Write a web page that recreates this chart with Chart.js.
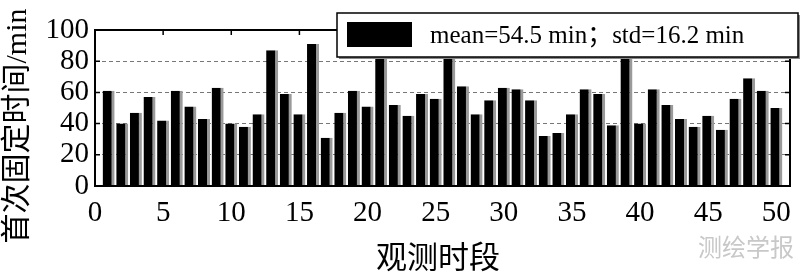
<!DOCTYPE html>
<html>
<head>
<meta charset="utf-8">
<script src="https://cdn.jsdelivr.net/npm/chart.js@4"></script>
<style>
    html, body { margin: 0; padding: 0; background: #fff; }
    #wrap { width: 800px; height: 272px; position: relative; }
</style>
</head>
<body>
<div id="wrap"><canvas id="fixChart"></canvas></div>
<script>
// observation periods and first fixation time (min)
const periods = [1, 2, 3, 4, 5, 6, 7, 8, 9, 10,
    11, 12, 13, 14, 15, 16, 17, 18, 19, 20,
    21, 22, 23, 24, 25, 26, 27, 28, 29, 30,
    31, 32, 33, 34, 35, 36, 37, 38, 39, 40,
    41, 42, 43, 44, 45, 46, 47, 48, 49, 50];
const fixTimes = [61, 40, 47, 57, 42, 61, 51, 43, 63, 40,
    38, 46, 87, 59, 46, 91, 31, 47, 61, 51,
    95, 52, 45, 59, 56, 93, 64, 46, 55, 63,
    62, 55, 32, 34, 46, 62, 59, 39, 94, 40,
    62, 52, 43, 38, 45, 36, 56, 69, 61, 50];
const yTicks = [0, 20, 40, 60, 80, 100];
const xTicks = [0, 5, 10, 15, 20, 25, 30, 35, 40, 45, 50];

const legendText = 'mean=54.5 min；std=16.2 min';
const yTitle = '首次固定时间/min';
const xTitle = '观测时段';
const watermark = '测绘学报';

const serif = 'Liberation Serif, Noto Sans CJK SC, serif';
const cjk = 'Noto Sans CJK SC, sans-serif';

Chart.defaults.font.family = serif;
Chart.defaults.color = '#000';

const framePlugin = {
    id: 'frame',
    afterDatasetsDraw(chart) {
        const { ctx, chartArea: a, scales } = chart;
        ctx.save();
        // plot frame
        ctx.strokeStyle = '#000';
        ctx.lineWidth = 2;
        ctx.strokeRect(a.left, a.top, a.right - a.left, a.bottom - a.top);
        // inner ticks
        ctx.lineWidth = 1.5;
        ctx.beginPath();
        xTicks.forEach(v => {
            const x = scales.x.getPixelForValue(v);
            ctx.moveTo(x, a.top);
            ctx.lineTo(x, a.top + 5);
        });
        yTicks.forEach(v => {
            const y = scales.y.getPixelForValue(v);
            ctx.moveTo(a.left, y);
            ctx.lineTo(a.left + 5, y);
            ctx.moveTo(a.right, y);
            ctx.lineTo(a.right - 5, y);
        });
        ctx.stroke();

        // legend box
        const lx = 337, ly = 13, lw = 461, lh = 44;
        ctx.fillStyle = '#888';
        ctx.fillRect(lx + 2, ly + 2, lw, lh);
        ctx.fillStyle = '#fff';
        ctx.fillRect(lx, ly, lw, lh);
        ctx.strokeStyle = '#000';
        ctx.lineWidth = 1.5;
        ctx.strokeRect(lx, ly, lw, lh);
        ctx.fillStyle = '#000';
        ctx.fillRect(lx + 10, ly + 9, 65, 25);
        ctx.font = '25px ' + serif;
        ctx.textAlign = 'left';
        ctx.textBaseline = 'middle';
        ctx.fillText(legendText, lx + 93, ly + 23);

        // axis titles
        ctx.fillStyle = '#000';
        ctx.textAlign = 'center';
        ctx.font = '30px ' + serif;
        ctx.save();
        ctx.translate(18, 126);
        ctx.rotate(-Math.PI / 2);
        ctx.fillText(yTitle, 0, 0);
        ctx.restore();
        ctx.font = '31px ' + cjk;
        ctx.fillText(xTitle, 438, 256);

        ctx.fillStyle = '#c8c8c8';
        ctx.font = '24px ' + cjk;
        ctx.fillText(watermark, 746, 247);
        ctx.restore();
    }
};

new Chart(document.getElementById('fixChart'), {
    type: 'bar',
    data: {
        datasets: [{
            data: periods.map((p, i) => ({ x: p, y: fixTimes[i] })),
            backgroundColor: '#000',
            borderColor: '#9a9a9a',
            borderWidth: { top: 0, right: 3, bottom: 0, left: 0 },
            borderSkipped: false,
            barPercentage: 0.92,
            categoryPercentage: 0.96
        }]
    },
    options: {
        responsive: true,
        maintainAspectRatio: false,
        animation: false,
        layout: { padding: { top: 30, right: 10, left: 0, bottom: 0 } },
        plugins: {
            legend: { display: false },
            tooltip: { enabled: false }
        },
        scales: {
            x: {
                type: 'linear',
                min: 0,
                max: 51,
                offset: false,
                afterFit(scale) { scale.height = 86; },
                afterBuildTicks(scale) { scale.ticks = xTicks.map(v => ({ value: v })); },
                ticks: {
                    color: '#000',
                    font: { family: serif, size: 29 },
                    padding: 2,
                    maxRotation: 0,
                    autoSkip: false
                },
                grid: { display: false },
                border: { display: false }
            },
            y: {
                min: 0,
                max: 100,
                afterFit(scale) { scale.width = 95; },
                afterBuildTicks(scale) { scale.ticks = yTicks.map(v => ({ value: v })); },
                ticks: {
                    color: '#000',
                    font: { family: serif, size: 29 },
                    padding: 6,
                    autoSkip: false
                },
                grid: { color: '#777', lineWidth: 1, drawTicks: false },
                border: { display: false, dash: [4, 3] }
            }
        }
    },
    plugins: [framePlugin]
});
</script>
</body>
</html>
